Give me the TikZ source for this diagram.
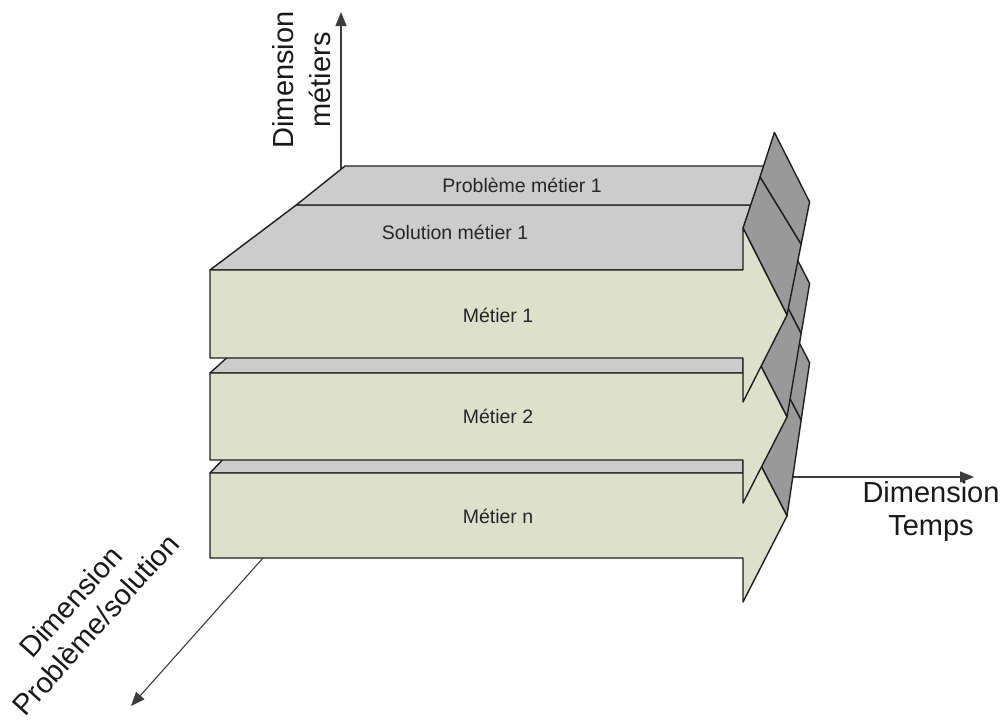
\documentclass[tikz,border=0pt]{standalone}
\usepackage{fontspec}
\setmainfont{Liberation Sans}
\usetikzlibrary{calc,arrows.meta}
\definecolor{facegreen}{RGB}{221,225,204}
\definecolor{topgray}{RGB}{204,204,204}
\definecolor{panelgray}{RGB}{153,153,153}
\definecolor{edgecol}{RGB}{30,30,30}
\definecolor{axisgray}{RGB}{60,60,60}
\newcommand\mklayer[6]{%
  \coordinate (#1fl) at (210,#2);
  \coordinate (#1fr) at (743,#2);
  \coordinate (#1bl) at ($(#1fl)!0.2!(VP)$);
  \coordinate (#1br) at ($(#1fr)!0.2!(VP)$);
  \coordinate (#1A) at (743,#4);
  \coordinate (#1P) at (787,#5);
  \coordinate (#1Aa) at ($(#1A)!0.125!(VP)$);
  \coordinate (#1Ab) at ($(#1A)!0.2!(VP)$);
  \coordinate (#1Pa) at ($(#1P)!0.125!(VP)$);
  \coordinate (#1Pb) at ($(#1P)!0.2!(VP)$);
  \coordinate (#1W) at (743,#6);
  \coordinate (#1bB) at (743,#3);
  \coordinate (#1lB) at (210,#3);
}
\begin{document}
\begin{tikzpicture}[x=1pt,y=-1pt,
  front/.style={fill=facegreen,draw=edgecol,line width=1.4pt,line join=round},
  topface/.style={fill=topgray,draw=edgecol,line width=1.4pt,line join=round},
  panel/.style={fill=panelgray,draw=edgecol,line width=1.4pt,line join=round},
  axis/.style={draw=axisgray,line width=1.1pt,-{Triangle[length=14pt,width=11pt]}},
  axislabel/.style={font=\fontsize{29}{33}\selectfont,align=center,inner sep=0pt,text=black!90},
  facelabel/.style={font=\fontsize{19.5}{23}\selectfont,inner sep=0pt,text=black!85}]
\useasboundingbox (0,0) rectangle (1003,720);
\fill[white] (0,0) rectangle (1003,720);
\coordinate (VP) at (900,-250);

% axes
\coordinate (vaxS) at (341,169);
\coordinate (vaxE) at (341,12);
\draw[axis] (vaxS) -- (vaxE);
\coordinate (taxS) at (791,477);
\coordinate (taxE) at (974,477);
\draw[axis] (taxS) -- (taxE);
\coordinate (daxS) at (263,558);
\coordinate (daxE) at (131,706);
\draw[axis] (daxS) -- (daxE);

% layer n
\mklayer{L3}{473}{558}{431}{516}{602}
\filldraw[topface] (L3fl) -- (L3fr) -- (L3br) -- (L3bl) -- cycle;
\filldraw[panel] (L3Aa) -- (L3Pa) -- (L3Pb) -- (L3Ab) -- cycle;
\filldraw[panel] (L3A) -- (L3P) -- (L3Pa) -- (L3Aa) -- cycle;
\filldraw[front] (L3fl) -- (L3fr) -- (L3A) -- (L3P) -- (L3W) -- (L3bB) -- (L3lB) -- cycle;
\node[facelabel] (metn) at (498,516) {Métier n};

% layer 2
\mklayer{L2}{373}{460}{331}{417}{503}
\filldraw[topface] (L2fl) -- (L2fr) -- (L2br) -- (L2bl) -- cycle;
\filldraw[panel] (L2Aa) -- (L2Pa) -- (L2Pb) -- (L2Ab) -- cycle;
\filldraw[panel] (L2A) -- (L2P) -- (L2Pa) -- (L2Aa) -- cycle;
\filldraw[front] (L2fl) -- (L2fr) -- (L2A) -- (L2P) -- (L2W) -- (L2bB) -- (L2lB) -- cycle;
\node[facelabel] (met2) at (498,416) {Métier 2};

% layer 1
\mklayer{L1}{270}{358}{228}{315}{402}
\coordinate (L1Aa) at (760,177);
\coordinate (L1bl) at (345,166);
\coordinate (L1ml) at ($(L1fl)!0.125!(VP)$);
\coordinate (L1mr) at ($(L1fr)!0.125!(VP)$);
\filldraw[topface] (L1fl) -- (L1fr) -- (L1mr) -- (L1ml) -- cycle;
\filldraw[topface] (L1ml) -- (L1mr) -- (L1br) -- (L1bl) -- cycle;
\filldraw[panel] (L1Aa) -- (L1Pa) -- (L1Pb) -- (L1Ab) -- cycle;
\filldraw[panel] (L1A) -- (L1P) -- (L1Pa) -- (L1Aa) -- cycle;
\filldraw[front] (L1fl) -- (L1fr) -- (L1A) -- (L1P) -- (L1W) -- (L1bB) -- (L1lB) -- cycle;
\node[facelabel] (met1) at (498,315) {Métier 1};
\node[facelabel] (sol1) at (455,232) {Solution métier 1};
\node[facelabel] (prob1) at (522,185) {Problème métier 1};

% axis labels
\node[axislabel,rotate=90,font=\fontsize{29}{37}\selectfont] (labM) at (301.5,80) {Dimension\\métiers};
\node[axislabel] (labT) at (931,511.5) {Dimension\\Temps};
\node[axislabel,rotate=48,font=\fontsize{29}{34}\selectfont] (labP) at (83,613) {Dimension\\Problème/solution};
\end{tikzpicture}
\end{document}
